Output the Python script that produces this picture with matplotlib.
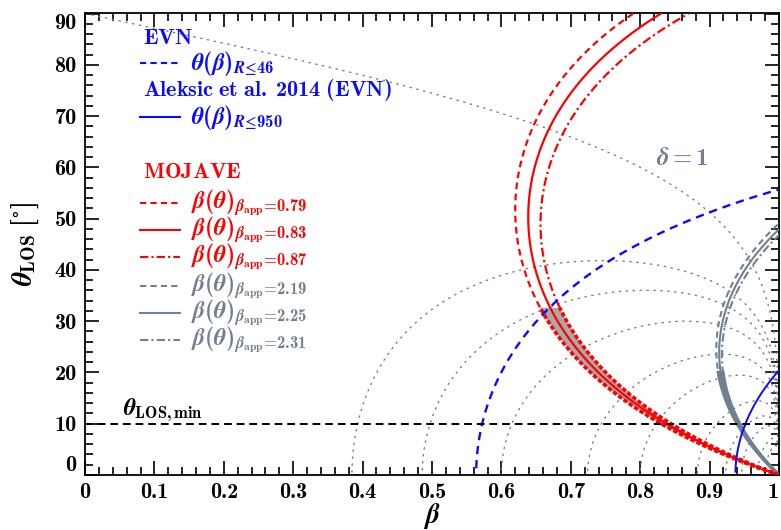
import numpy as np
import matplotlib
matplotlib.use("Agg")
from matplotlib import pyplot as plt

# apparent speeds (in c) of the MOJAVE components
bapp_red = [0.79, 0.83, 0.87]
bapp_gray = [2.19, 2.25, 2.31]
# jet/counterjet brightness ratio limits and exponents (2 - alpha)
R_evn, p_evn = 46, 3.0
R_aleksic, p_aleksic = 950, 2.0
# Doppler factor contours
delta_levels = [1.0, 1.5, 1.7, 2.0, 2.5, 3.0, 4.0, 5.0, 6.0, 8.0, 10.0]
theta_min = 10.0

plt.rcParams['mathtext.fontset'] = 'custom'
plt.rcParams['mathtext.rm'] = 'cmb10'
plt.rcParams['mathtext.bf'] = 'cmb10'
plt.rcParams['mathtext.it'] = 'STIXGeneral:italic:bold'
plt.rcParams['mathtext.bfit'] = 'STIXGeneral:italic:bold'
plt.rcParams['mathtext.fallback'] = 'stix'

RED = 'red'
BLUE = '#0a0aff'
SLATE = '#708090'
FILL = '#a9a9a9'


def beta_of_theta(bapp, th):
    t = np.radians(th)
    return bapp / (np.sin(t) + bapp * np.cos(t))


def beta_cos(R, p):
    r = R ** (1.0 / p)
    return (r - 1) / (r + 1)


def theta_of_beta(R, p, beta):
    c = beta_cos(R, p)
    b = beta[beta >= c]
    return b, np.degrees(np.arccos(np.clip(c / b, -1, 1)))


def theta_delta(delta, beta):
    g = 1 / np.sqrt(1 - beta ** 2)
    cs = (1 - 1 / (g * delta)) / beta
    ok = (cs <= 1) & (cs >= 0)
    return beta[ok], np.degrees(np.arccos(cs[ok]))


fig = plt.figure(figsize=(7.81, 5.30), dpi=100)
ax = fig.add_axes([85 / 781, 1 - 475 / 530, 694 / 781, 462 / 530])

# Doppler factor contours
bgrid = np.concatenate([np.linspace(1e-4, 0.99, 3000), 1 - np.logspace(-2, -7, 800)])
for d in delta_levels:
    b, th = theta_delta(d, bgrid)
    ax.plot(b, th, color=SLATE, lw=1.0, ls=(0, (1, 4)), dash_capstyle='round')

theta = np.linspace(0, 90, 3000)

# allowed region for the MOJAVE component
c46 = beta_cos(R_evn, p_evn)
b_mid = beta_of_theta(bapp_red[1], theta)
lowpart = b_mid * np.cos(np.radians(theta)) >= c46
th_c = theta[lowpart].max()
th_lo = theta[theta <= th_c]
ax.fill_betweenx(th_lo, beta_of_theta(bapp_red[0], th_lo), beta_of_theta(bapp_red[2], th_lo),
                 color=FILL, lw=0, zorder=2)

red_styles = [(0, (3, 2)), '-', (0, (4, 1.5, 1, 1.5))]
for v, ls in zip(bapp_red, red_styles):
    if ls == '-':
        ax.plot(beta_of_theta(v, theta), theta, color=RED, lw=1.6, zorder=4)
    else:
        th_up = theta[theta >= th_c]
        ax.plot(beta_of_theta(v, th_up), th_up, color=RED, lw=1.6, ls=ls, zorder=4)
        ax.plot(beta_of_theta(v, th_lo), th_lo, color=RED, lw=2.6, ls=(0, (1.2, 0.6)), zorder=4)

gray_styles = [(0, (3, 2)), '-', (0, (4, 1.5, 1, 1.5))]
for v, ls in zip(bapp_gray, gray_styles):
    b = beta_of_theta(v, theta)
    ax.plot(b, theta, color=SLATE, lw=1.5, ls=ls, zorder=3)
    th_g = theta[theta <= 20]
    ax.plot(beta_of_theta(v, th_g), th_g, color=SLATE, lw=2.4, zorder=3)

# counterjet limits
bline = np.linspace(0.3, 1, 3000)
b, th = theta_of_beta(R_evn, p_evn, bline)
ax.plot(b, th, color=BLUE, lw=1.7, ls=(0, (3.5, 2.5)), zorder=5)
b, th = theta_of_beta(R_aleksic, p_aleksic, bline)
ax.plot(b, th, color=BLUE, lw=1.4, zorder=5)

ax.axhline(theta_min, color='black', lw=1.4, ls=(0, (4, 2.5)), zorder=5)
ax.text(0.055, 12.7, r'$\theta_{\mathrm{LOS,min}}$', fontsize=17, va='center', ha='left')
ax.text(0.823, 61.8, r'$\delta = 1$', fontsize=18, color=SLATE, va='center', ha='left')

ax.set_xlim(0, 1)
ax.set_ylim(0, 90.1)
ax.set_xticks(np.arange(0, 1.01, 0.1))
ax.set_xticks(np.arange(0, 1.001, 0.02), minor=True)
ax.set_yticks(np.arange(0, 91, 10))
ax.set_yticks(np.arange(0, 91, 2), minor=True)
ax.set_xticklabels(['0'] + ['%.1f' % x for x in np.arange(0.1, 0.95, 0.1)] + ['1'])
ax.tick_params(which='both', direction='in', top=True, right=True, width=1.2, labelsize=16, pad=6)
ax.tick_params(which='major', length=10)
ax.tick_params(which='minor', length=6)
for lab in ax.get_xticklabels() + ax.get_yticklabels():
    lab.set_fontfamily('cmb10')
ylabs = ax.get_yticklabels()
ylabs[0].set_va('bottom')
ylabs[-1].set_va('top')
ax.get_xticklabels()[-1].set_ha('right')
for s in ax.spines.values():
    s.set_linewidth(1.3)

ax.set_xlabel(r'$\beta$', fontsize=20, labelpad=-1)
ax.set_ylabel(r'$\theta_{\mathrm{LOS}}\ \mathrm{[^{\circ}]}$', fontsize=20, labelpad=10)

# legend block
def ax_xy(px, py):
    return (px - 85) / 694, (475 - py) / 462


def header(py, txt, col):
    x, y = ax_xy(143, py)
    ax.text(x, y, txt, transform=ax.transAxes, color=col, fontsize=16, va='center', ha='left')


def entry(py, txt, col, ls):
    x0, y = ax_xy(140, py)
    x1, _ = ax_xy(180, py)
    ax.plot([x0, x1], [y, y], transform=ax.transAxes, color=col, lw=1.5, ls=ls)
    x, _ = ax_xy(191, py)
    ax.text(x, y, txt, transform=ax.transAxes, color=col, fontsize=17, va='center', ha='left')


header(38, r'$\mathrm{EVN}$', BLUE)
entry(63, r'$\theta(\beta)_{R\!\leq\!%d}$' % R_evn, BLUE, (0, (3, 2)))
header(90, r'$\mathrm{Aleksic\ et\ al.\ 2014\ (EVN)}$', BLUE)
entry(117, r'$\theta(\beta)_{R\!\leq\!%d}$' % R_aleksic, BLUE, '-')
header(172, r'$\mathrm{MOJAVE}$', RED)
for py, v, ls in zip([203, 230, 257], bapp_red, red_styles):
    entry(py, r'$\beta(\theta)_{\beta_{\mathrm{app}}\!=\!%.2f}$' % v, RED, ls)
for py, v, ls in zip([286, 313, 340], bapp_gray, gray_styles):
    entry(py, r'$\beta(\theta)_{\beta_{\mathrm{app}}\!=\!%.2f}$' % v, SLATE, ls)

fig.savefig('out.png', dpi=100)
